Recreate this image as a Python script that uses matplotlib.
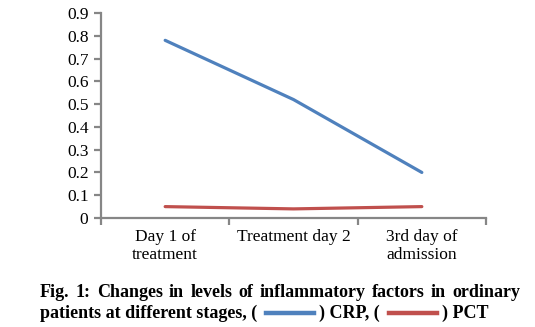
#!/usr/bin/env python3
"""Inflammatory factor levels across stages, ordinary patients."""

import matplotlib

matplotlib.use("Agg")
import matplotlib.pyplot as plt
from matplotlib.lines import Line2D

stages = ["Day 1 of\ntreatment", "Treatment day 2", "3rd day of\nadmission"]
crp = [0.78, 0.52, 0.20]
pct = [0.05, 0.04, 0.05]
yticks = [0, 0.1, 0.2, 0.3, 0.4, 0.5, 0.6, 0.7, 0.8, 0.9]

caption_line1 = "Fig. 1: Changes in levels of inflammatory factors in ordinary"
BLUE = "#4f81bd"
RED = "#c0504d"
AXIS = "#868686"

plt.rcParams["font.family"] = ["Liberation Serif", "DejaVu Serif"]

fig = plt.figure(figsize=(5.35, 3.27), dpi=100)
ax = fig.add_axes((101 / 535, 1 - 218 / 327, 385 / 535, 205 / 327))

x = range(len(stages))
ax.plot(x, crp, color=BLUE, linewidth=2.3, solid_capstyle="round")
ax.plot(x, pct, color=RED, linewidth=2.3, solid_capstyle="round")

ax.set_xlim(-0.5, len(stages) - 0.5)
ax.set_ylim(0, 0.9)
ax.set_yticks(yticks)
ax.set_yticklabels([f"{v:g}" for v in yticks], fontsize=12.5)

# category labels between boundary ticks
ax.set_xticks([-0.5, 0.5, 1.5, 2.5])
ax.set_xticklabels([])
for i, s in enumerate(stages):
    ax.text(i, -0.05, s, ha="center", va="top", fontsize=12.5,
            linespacing=1.15, transform=ax.transData)

for side in ("top", "right"):
    ax.spines[side].set_visible(False)
for side in ("left", "bottom"):
    ax.spines[side].set_color(AXIS)
    ax.spines[side].set_linewidth(1.6)
ax.tick_params(axis="both", color=AXIS, width=1.6, length=5, direction="out")
ax.tick_params(axis="y", pad=4)

# caption, first line justified word by word
fig.canvas.draw()
renderer = fig.canvas.get_renderer()
W = fig.bbox.width
words = caption_line1.split(" ")
left, right = 40 / 535, 520 / 535
y1 = 1 - 297 / 327
cap = dict(fontsize=13, fontweight="bold", va="baseline")
arts = [fig.text(0, y1, w, **cap) for w in words]
widths = [a.get_window_extent(renderer).width / W for a in arts]
gap = (right - left - sum(widths)) / (len(words) - 1)
pos = left
for a, w in zip(arts, widths):
    a.set_x(pos)
    pos += w + gap


def put(xpos, s):
    t = fig.text(xpos, y2, s, **cap)
    return xpos + t.get_window_extent(renderer).width / W


def swatch(xpos, color):
    fig.add_artist(Line2D([xpos + 9 / 535, xpos + 57 / 535], [ys, ys],
                          color=color, linewidth=3.2,
                          transform=fig.transFigure))
    return xpos + 62 / 535


# second line with inline legend swatches
y2 = 1 - 318 / 327
ys = 1 - 313 / 327
pos = put(left, "patients at different stages, (")
pos = swatch(pos, BLUE)
pos = put(pos, ") CRP, (")
pos = swatch(pos, RED)
put(pos, ") PCT")

fig.savefig("out.png", dpi=100)
